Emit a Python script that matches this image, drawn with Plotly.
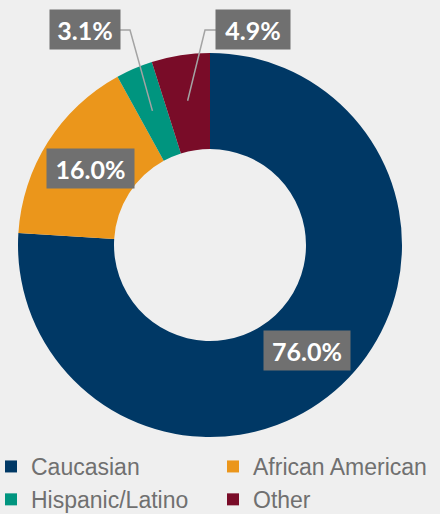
import math
import plotly.graph_objects as go

categories = ["Caucasian", "African American", "Hispanic/Latino", "Other"]
values = [76.0, 16.0, 3.1, 4.9]
label_texts = ["76.0%", "16.0%", "3.1%", "4.9%"]
colors = ["#003865", "#eb961b", "#00957f", "#790c28"]

W, H = 440, 514
MB = 72                 # bottom margin holding the legend
PH = H - MB             # plot-area height
CX, CY, R = 210, 245, 192
HOLE = 0.5

def px(x, y):
    """pixel -> paper coords of the plot area"""
    return x / W, (PH - y) / PH

fig = go.Figure(go.Pie(
    labels=categories, values=values, sort=False, direction="clockwise", rotation=0,
    hole=HOLE, marker=dict(colors=colors, line=dict(width=0)),
    textinfo="none", hoverinfo="label+percent",
    domain=dict(x=[(CX - R) / W, (CX + R) / W], y=[px(0, CY + R)[1], px(0, CY - R)[1]]),
))

# label box centers (pixel) and widths
boxes = {
    "76.0%": (307, 350, 86),
    "16.0%": (90, 168, 87),
    "3.1%": (85, 30, 70),
    "4.9%": (253, 30, 74),
}
annotations = []
for t in label_texts:
    bx, by, bw = boxes[t]
    ax, ay = px(bx, by)
    annotations.append(dict(
        x=ax, y=ay, xref="paper", yref="paper", text="<b>%s</b>" % t, showarrow=False,
        font=dict(family="Lato", size=25, color="white"),
        bgcolor="#707070", width=bw, height=39, borderpad=0, xanchor="center", yanchor="middle",
    ))

# leader lines for the small slices, end points from slice mid-angles
total = sum(values)
cum = 0
mid = []
for v in values:
    mid.append((cum + v / 2) / total * 2 * math.pi)
    cum += v
shapes = []
rl = 146
for idx, (t, side) in zip([2, 3], [("3.1%", "right"), ("4.9%", "left")]):
    bx, by, bw = boxes[t]
    ex = bx + bw / 2 if side == "right" else bx - bw / 2
    kx = ex + 10 if side == "right" else ex - 11
    th = mid[idx]
    tx = CX + rl * math.sin(th)
    ty = CY - rl * math.cos(th)
    p = [px(ex, by), px(kx, by), px(tx, ty)]
    path = "M %f %f L %f %f L %f %f" % (p[0][0], p[0][1], p[1][0], p[1][1], p[2][0], p[2][1])
    shapes.append(dict(type="path", path=path, xref="paper", yref="paper",
                       line=dict(color="#a3a3a3", width=1.5)))

fig.update_layout(
    width=W, height=H, margin=dict(l=0, r=0, t=0, b=MB, autoexpand=False),
    paper_bgcolor="#efefef", plot_bgcolor="#efefef",
    annotations=annotations, shapes=shapes,
    showlegend=True,
    legend=dict(orientation="h", x=-9 / W, xanchor="left", y=-3 / PH, yanchor="top",
                entrywidth=177, entrywidthmode="pixels", traceorder="normal",
                font=dict(family="Liberation Sans", size=23, color="#707070"),
                bgcolor="rgba(0,0,0,0)"),
)
fig.write_html("out.html", config={"displayModeBar": False},
               post_script="document.body.style.margin='0';document.body.style.background='#efefef';")
